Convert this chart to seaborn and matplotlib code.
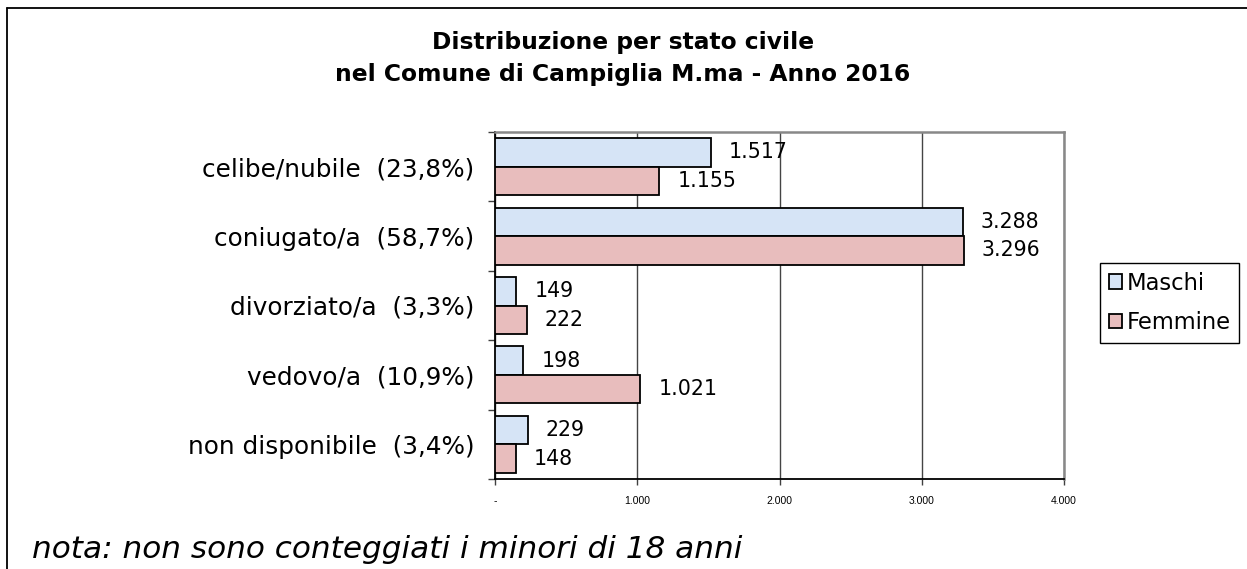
import numpy as np
import pandas as pd
import matplotlib
matplotlib.use('Agg')
import matplotlib.pyplot as plt
import seaborn as sns
from matplotlib.lines import Line2D

sns.set_style('white')
plt.rcParams['font.family'] = ['DejaVu Sans']
plt.rcParams['text.color'] = 'black'
plt.rcParams['xtick.color'] = 'black'
plt.rcParams['ytick.color'] = 'black'
plt.rcParams['axes.labelcolor'] = 'black'

stati = ['celibe/nubile', 'coniugato/a', 'divorziato/a', 'vedovo/a', 'non disponibile']
perc = ['23,8%', '58,7%', '3,3%', '10,9%', '3,4%']
maschi = [1517, 3288, 149, 198, 229]
femmine = [1155, 3296, 222, 1021, 148]
x_ticks = [0, 1000, 2000, 3000, 4000]
x_ticklabels = ['-', '1.000', '2.000', '3.000', '4.000']

cat_labels = [f'{s}  ({p})' for s, p in zip(stati, perc)]
df = pd.DataFrame({
    'stato': cat_labels * 2,
    'sesso': ['Maschi'] * 5 + ['Femmine'] * 5,
    'n': maschi + femmine,
})

W, H = 1247, 569
fig = plt.figure(figsize=(W / 100, H / 100), dpi=100)
ax = fig.add_axes([495 / W, 1 - 479 / H, (1064 - 495) / W, (479 - 132) / H])

pal = {'Maschi': '#d6e4f6', 'Femmine': '#e8bdbd'}
sns.barplot(data=df, y='stato', x='n', hue='sesso', palette=pal, orient='h',
            width=0.82, edgecolor='black', linewidth=1.3, saturation=1,
            ax=ax, legend=False, zorder=3)

for cont in ax.containers:
    vals = [int(b.get_width()) for b in cont]
    ax.bar_label(cont, labels=[f'{v:,}'.replace(',', '.') for v in vals],
                 padding=13, fontsize=14.8)

ax.set_xlim(0, 4000)
ax.set_ylim(4.5, -0.5)
ax.set_xticks(x_ticks)
ax.set_xticklabels(x_ticklabels, fontsize=7.5, family='Liberation Sans')
ax.tick_params(axis='x', length=4, width=1, color='#404040', direction='out', pad=8, bottom=True)
ax.set_yticks(range(5))
ax.set_yticklabels(cat_labels, fontsize=17.8)
ax.tick_params(axis='y', which='major', length=0, pad=15)
ax.set_yticks(np.arange(-0.5, 5, 1), minor=True)
ax.tick_params(axis='y', which='minor', length=5, width=1, color='#404040', direction='out', left=True)
ax.set_xlabel('')
ax.set_ylabel('')

ax.grid(axis='x', color='#444444', linewidth=1)
ax.grid(axis='y', visible=False)
ax.set_axisbelow(True)
for side in ['left', 'bottom']:
    ax.spines[side].set_color('black')
    ax.spines[side].set_linewidth(1.3)
for side in ['top', 'right']:
    ax.spines[side].set_visible(True)
    ax.spines[side].set_color('#888888')
    ax.spines[side].set_linewidth(1.8)

handles = [plt.Rectangle((0, 0), 1, 1, facecolor=pal[k], edgecolor='black', linewidth=1.3)
           for k in ['Maschi', 'Femmine']]
fig.legend(handles, ['Maschi', 'Femmine'], loc='upper left',
           bbox_to_anchor=(1100 / W, 1 - 263 / H), fontsize=16.3,
           frameon=True, fancybox=False, edgecolor='black', framealpha=1,
           handlelength=0.6, handleheight=0.6, handletextpad=0.2,
           borderpad=0.38, labelspacing=0.72, borderaxespad=0)

fig.text(623 / W, 1 - 42 / H, 'Distribuzione per stato civile', ha='center', va='center',
         fontsize=16.8, fontweight='bold')
fig.text(623 / W, 1 - 75 / H, 'nel Comune di Campiglia M.ma - Anno 2016', ha='center',
         va='center', fontsize=16.8, fontweight='bold')
fig.text(32 / W, 1 - 558 / H, 'nota: non sono conteggiati i minori di 18 anni',
         ha='left', va='baseline', fontsize=22.4, style='italic')

fig.add_artist(Line2D([7 / W, 7 / W], [0, 1 - 8 / H], transform=fig.transFigure,
                      color='black', linewidth=1.3))
fig.add_artist(Line2D([7 / W, 1], [1 - 8 / H, 1 - 8 / H], transform=fig.transFigure,
                      color='black', linewidth=1.3))

fig.savefig('out.png', dpi=100)
